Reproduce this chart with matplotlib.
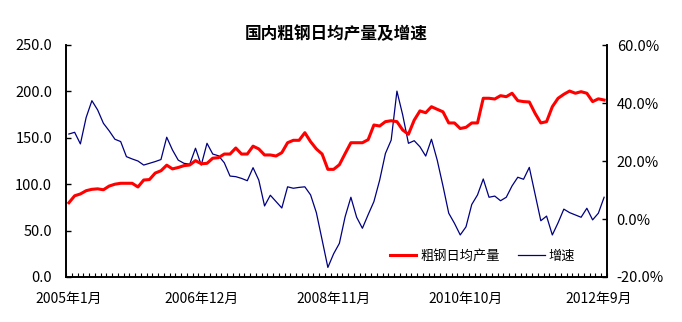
import matplotlib
matplotlib.use("Agg")
import matplotlib.pyplot as plt
from matplotlib.ticker import FixedLocator, FuncFormatter

plt.rcParams['font.family'] = ['Noto Sans CJK SC', 'DejaVu Sans']

# 2005-01 .. 2012-10, monthly
tick_pos = [0, 23, 46, 69, 92]
tick_labels = ['2005年1月', '2006年12月', '2008年11月', '2010年10月', '2012年9月']

# crude steel daily output (10k t)
output = [80, 87.5, 89.5, 93, 94.5, 95, 94, 98, 100, 101,
          101, 101, 97, 104.5, 105, 112, 114.5, 120.5, 116.5, 118,
          120, 120.7, 125.4, 122, 122.5, 128, 128.6, 132.5, 132.5, 139,
          132.5, 132.5, 141, 138, 131.5, 131.5, 130.4, 134, 144.7, 147.3,
          147.3, 155.5, 145.8, 138, 132.5, 116, 116, 121, 133, 144.7,
          144.7, 144.7, 148, 163.8, 162.7, 167.4, 168.4, 167.4, 158.4, 153.8,
          169, 179, 177, 183.5, 180.7, 178, 166, 166, 160, 161.3,
          166, 166, 192.6, 192.6, 191.8, 195.4, 194.3, 198, 190, 189,
          188.6, 176.4, 166, 167.4, 183.5, 192.6, 196.9, 200.4, 198, 199.7,
          198, 189, 192, 190.7]

# year-on-year growth (%)
growth = [29.3, 29.9, 25.9, 35, 40.8, 37.6, 33, 30.4, 27.5, 26.7,
          21.5, 20.7, 20, 18.6, 19.2, 19.8, 20.5, 28.2, 23.8, 20.3,
          19.2, 18.9, 24.4, 18.6, 26.1, 22.4, 21.8, 19.4, 14.8, 14.6,
          14, 13.2, 17.7, 13.4, 4.5, 8.2, 6, 3.8, 11.1, 10.6,
          10.9, 11.1, 8.3, 2.2, -7.2, -16.7, -12, -8.4, 0.8, 7.5,
          0.6, -3.2, 1.5, 6, 13.4, 22.6, 27.2, 44.1, 35.9, 26.1,
          27, 24.9, 21.7, 27.5, 20.3, 11.4, 2, -1.5, -5.5, -2.7,
          5, 8.3, 13.8, 7.5, 7.9, 6.3, 7.5, 11.4, 14.4, 13.7,
          17.8, 8.6, -0.6, 1, -5.5, -1.3, 3.4, 2.2, 1.4, 0.6,
          3.7, -0.3, 2, 7.5]

x = list(range(len(output)))

fig = plt.figure(figsize=(6.82, 3.22), dpi=100)
ax = fig.add_axes([66 / 682, 1 - 277 / 322, 541 / 682, 232 / 322])
ax2 = ax.twinx()

l2, = ax2.plot(x, growth, color='#000080', lw=0.9, label='增速')
l1, = ax.plot(x, output, color='#ff0000', lw=2.2, label='粗钢日均产量')

ax.set_zorder(ax2.get_zorder() + 1)
ax.patch.set_visible(False)

ax.set_xlim(-0.5, len(output) - 0.5)
ax.set_ylim(0, 250)
ax2.set_ylim(-20, 60)
ax.set_yticks([0, 50, 100, 150, 200, 250])
ax2.set_yticks([-20, 0, 20, 40, 60])
ax.yaxis.set_major_formatter(FuncFormatter(lambda v, p: '%.1f' % v))
ax2.yaxis.set_major_formatter(FuncFormatter(lambda v, p: '%.1f%%' % v))

ax.set_xticks(tick_pos)
ax.set_xticklabels(tick_labels)
ax.xaxis.set_minor_locator(FixedLocator([i - 0.5 for i in range(len(output) + 1)]))
ax.tick_params(axis='x', which='major', length=0, pad=11, labelsize=10)
ax.tick_params(axis='x', which='minor', direction='in', length=3, width=0.8)
ax.tick_params(axis='y', direction='in', length=3.5, width=1, pad=10, labelsize=10.5)
ax2.tick_params(axis='y', direction='in', length=3.5, width=1, pad=7, labelsize=10.5)

for a in (ax, ax2):
    a.spines['top'].set_visible(False)
    for s in ('left', 'right', 'bottom'):
        a.spines[s].set_linewidth(1.2)

ax.set_title('国内粗钢日均产量及增速', fontsize=12, fontweight='bold', pad=4)

ax.legend(handles=[l1, l2], loc='center', bbox_to_anchor=(0.77, 0.09), ncol=2,
          frameon=False, fontsize=9.5, handlelength=2.0, handletextpad=0.3,
          columnspacing=1.4)

fig.savefig('out.png', dpi=100)
